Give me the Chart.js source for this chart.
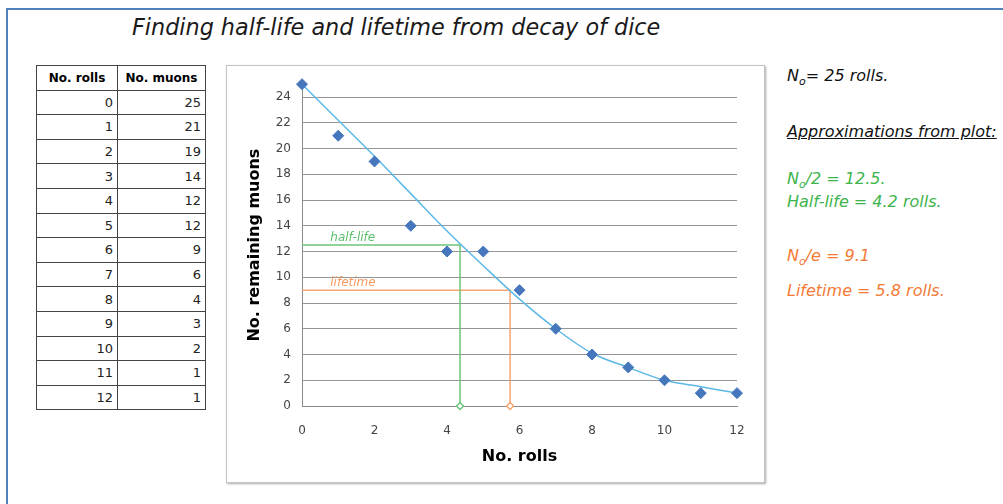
<!DOCTYPE html>
<html>
<head>
<meta charset="utf-8">
<script src="https://cdn.jsdelivr.net/npm/chart.js@4/dist/chart.umd.min.js"></script>
<style>
  body { margin: 0; width: 1003px; height: 504px; background: #fff; overflow: hidden; position: relative; font-family: "DejaVu Sans", sans-serif; }
  #frame { position: absolute; left: 6px; top: 8px; width: 1100px; height: 600px; border: 2px solid #4f81bd; }
  #title { position: absolute; left: 132px; top: 14px; font-style: italic; font-size: 22.3px; color: #1a1a1a; white-space: nowrap; }
  table { position: absolute; left: 36px; top: 65px; border-collapse: collapse; font-size: 13px; color: #222; }
  td, th { border: 1px solid #444; height: 23.6px; padding: 0 4px; text-align: right; }
  th { font-size: 12px; text-align: center; font-weight: bold; padding: 0 2px; color: #000; }
  td.c1 { width: 72px; } td.c2 { width: 79px; }
  #box { position: absolute; left: 226px; top: 65px; width: 537px; height: 416px; border: 1px solid #c4c4c4; box-shadow: 1px 1px 2px #aaa; }
  .note { position: absolute; left: 787px; font-style: italic; font-size: 16px; white-space: nowrap; }
  .note sub { font-size: 11px; }
</style>
</head>
<body>
<div id="frame"></div>
<div id="title">Finding half-life and lifetime from decay of dice</div>
<table id="tbl"></table>
<div id="box"><canvas id="decay_chart"></canvas></div>
<div class="note" style="top:66px;color:#111">N<sub>o</sub>= 25 rolls.</div>
<div class="note" style="top:122px;color:#111;text-decoration:underline">Approximations from plot:</div>
<div class="note" style="top:169px;color:#3cb44b">N<sub>o</sub>/2 = 12.5.</div>
<div class="note" style="top:192px;color:#3cb44b">Half-life = 4.2 rolls.</div>
<div class="note" style="top:246px;color:#f47a36">N<sub>o</sub>/e = 9.1</div>
<div class="note" style="top:281px;color:#f47a36">Lifetime = 5.8 rolls.</div>
<script>
// measured decay of dice
const rolls = [0, 1, 2, 3, 4, 5, 6, 7, 8, 9, 10, 11, 12];
const muons = [25, 21, 19, 14, 12, 12, 9, 6, 4, 3, 2, 1, 1];
// trendline
const trendValues = [25, 22.2, 19.4, 16.5, 13.6, 10.9, 8.3, 6.0, 4.1, 3.0, 2.0, 1.5, 1.0];
// guide lines
const halfLevel = 12.5, halfRolls = 4.36;
const lifeLevel = 9.0, lifeRolls = 5.74;
const yTicks = [0, 2, 4, 6, 8, 10, 12, 14, 16, 18, 20, 22, 24];

// table
const tbl = document.getElementById('tbl');
let html = '<tr><th>No. rolls</th><th>No. muons</th></tr>';
rolls.forEach((r, i) => { html += `<tr><td class="c1">${r}</td><td class="c2">${muons[i]}</td></tr>`; });
tbl.innerHTML = html;

const guideLabels = {
    id: 'guideLabels',
    afterDatasetsDraw(chart) {
        const { ctx, scales: { x, y } } = chart;
        ctx.save();
        ctx.font = 'italic 12px "DejaVu Sans"';
        ctx.textBaseline = 'bottom';
        ctx.fillStyle = '#5cbf6c';
        ctx.fillText('half-life', x.getPixelForValue(0.78), y.getPixelForValue(halfLevel) - 1);
        ctx.fillStyle = '#f49a62';
        ctx.fillText('lifetime', x.getPixelForValue(0.78), y.getPixelForValue(lifeLevel) - 1);
        ctx.restore();
    }
};

const ctx = document.getElementById('decay_chart').getContext('2d');
const decay_chart = new Chart(ctx, {
    type: 'scatter',
    data: {
        datasets: [{
            label: 'No. muons',
            data: rolls.map((r, i) => ({ x: r, y: muons[i] })),
            pointStyle: 'rectRot',
            pointRadius: 5.5,
            backgroundColor: '#4677bd',
            borderColor: '#4677bd',
            clip: false,
            order: 0
        }, {
            label: 'trend',
            type: 'line',
            data: rolls.map((r, i) => ({ x: r, y: trendValues[i] })),
            borderColor: '#5cb8e6',
            borderWidth: 1.5,
            pointRadius: 0,
            cubicInterpolationMode: 'monotone',
            fill: false,
            order: 1
        }, {
            label: 'half-life',
            type: 'line',
            data: [{ x: 0, y: halfLevel }, { x: halfRolls, y: halfLevel }, { x: halfRolls, y: 0 }],
            borderColor: '#6cc47a',
            borderWidth: 1.5,
            pointRadius: [0, 0, 3.5],
            pointStyle: 'rectRot',
            pointBackgroundColor: '#fff',
            pointBorderColor: '#6cc47a',
            clip: false,
            order: 2
        }, {
            label: 'lifetime',
            type: 'line',
            data: [{ x: 0, y: lifeLevel }, { x: lifeRolls, y: lifeLevel }, { x: lifeRolls, y: 0 }],
            borderColor: '#f5a671',
            borderWidth: 1.5,
            pointRadius: [0, 0, 3.5],
            pointStyle: 'rectRot',
            pointBackgroundColor: '#fff',
            pointBorderColor: '#f5a671',
            clip: false,
            order: 2
        }]
    },
    options: {
        responsive: true,
        maintainAspectRatio: false,
        animation: false,
        layout: { padding: { top: 16, right: 27, left: 0, bottom: 0 } },
        plugins: { legend: { display: false }, tooltip: { enabled: false } },
        scales: {
            x: {
                type: 'linear', min: 0, max: 12,
                ticks: { stepSize: 2, color: '#444', padding: 10, font: { family: "'DejaVu Sans'", size: 12 } },
                grid: { display: false },
                border: { display: true, color: '#8a8a8a' },
                title: { display: true, text: 'No. rolls', color: '#000', padding: { top: 6, bottom: 16 }, font: { family: "'DejaVu Sans'", size: 16, weight: 'bold' } },
                afterFit: s => { s.height = 76; }
            },
            y: {
                type: 'linear', min: 0, max: 25,
                afterBuildTicks: s => { s.ticks = yTicks.map(v => ({ value: v })); },
                ticks: { color: '#444', padding: 11, font: { family: "'DejaVu Sans'", size: 12 } },
                grid: { color: '#969696', drawTicks: false },
                border: { display: true, color: '#8a8a8a' },
                title: { display: true, text: 'No. remaining muons', color: '#000', padding: { top: 18, bottom: 0 }, font: { family: "'DejaVu Sans'", size: 16, weight: 'bold' } },
                afterFit: s => { s.width = 75; }
            }
        }
    },
    plugins: [guideLabels]
});
</script>
</body>
</html>
